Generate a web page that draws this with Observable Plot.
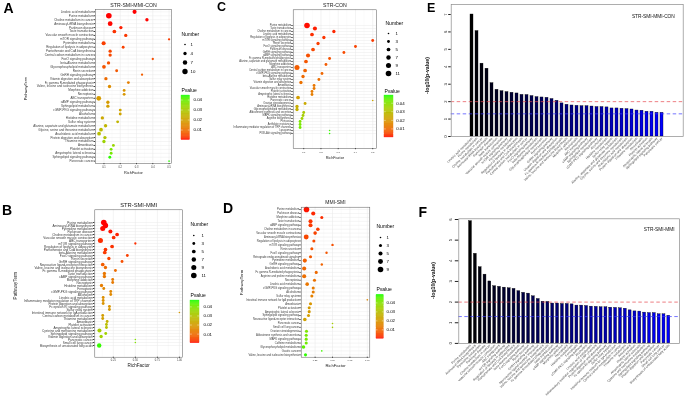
<!DOCTYPE html>
<html><head><meta charset="utf-8">
<script src="https://cdn.jsdelivr.net/npm/d3@7"></script>
<script src="https://cdn.jsdelivr.net/npm/@observablehq/plot@0.6"></script>
<style>
html,body{margin:0;padding:0;background:#fff;}
#wrap{position:relative;width:685px;height:400px;overflow:hidden;background:#fff;}
#wrap > svg{position:absolute;left:0;top:0;will-change:transform;}
</style></head>
<body><div id="wrap"></div>
<script>
// ---------- Panel A / E : STR-SMI-MMI-CON ----------
const termsA = ["Linoleic acid metabolism","Purine metabolism","Choline metabolism in cancer","Aminoacyl-tRNA biosynthesis","Parkinson disease","Taste transduction","Vascular smooth muscle contraction","mTOR signaling pathway","Pyrimidine metabolism","Regulation of lipolysis in adipocytes","Pantothenate and CoA biosynthesis","Central carbon metabolism in cancer","FoxO signaling pathway","beta-Alanine metabolism","Glycerophospholipid metabolism","Renin secretion","GnRH signaling pathway","Vitamin digestion and absorption","Fc gamma R-mediated phagocytosis","Valine, leucine and isoleucine biosynthesis","Morphine addiction","Necroptosis","ABC transporters","cAMP signaling pathway","Sphingolipid metabolism","cGMP-PKG signaling pathway","Alcoholism","Histidine metabolism","Sulfur relay system","Alanine, aspartate and glutamate metabolism","Glycine, serine and threonine metabolism","Arachidonic acid metabolism","Protein digestion and absorption","Thiamine metabolism","Amoebiasis","Platelet activation","Amyotrophic lateral sclerosis","Sphingolipid signaling pathway","Pancreatic cancer"];
const richA = [0.288,0.130,0.364,0.138,0.204,0.164,0.234,0.50,0.098,0.218,0.138,0.138,0.40,0.128,0.10,0.178,0.334,0.112,0.25,0.134,0.224,0.224,0.068,0.124,0.124,0.20,0.20,0.09,0.184,0.11,0.082,0.070,0.106,0.10,0.158,0.144,0.144,0.136,0.50];
const numA = [6,11,4,8,4,5,4,2,6,3,4,4,2,4,5,3,2,4,3,4,3,3,8,4,4,3,3,4,3,4,5,5,4,4,3,3,3,3,1];
const negLogP_E = [7.0,6.05,4.18,3.89,3.06,2.68,2.60,2.55,2.51,2.47,2.39,2.38,2.32,2.26,2.24,2.22,2.15,2.05,1.90,1.82,1.78,1.76,1.74,1.74,1.72,1.69,1.69,1.67,1.61,1.61,1.59,1.57,1.55,1.49,1.48,1.42,1.42,1.36,1.36];

// ---------- Panel B / F : STR-SMI-MMI ----------
const termsB = ["Purine metabolism","Aminoacyl-tRNA biosynthesis","Pyrimidine metabolism","Parkinson disease","Choline metabolism in cancer","Vascular smooth muscle contraction","ABC transporters","mTOR signaling pathway","Regulation of lipolysis in adipocytes","Pantothenate and CoA biosynthesis","beta-Alanine metabolism","FoxO signaling pathway","Renin secretion","GnRH signaling pathway","Neuroactive ligand-receptor interaction","Valine, leucine and isoleucine biosynthesis","Fc gamma R-mediated phagocytosis","Taste transduction","cAMP signaling pathway","Morphine addiction","Necroptosis","Histidine metabolism","Ferroptosis","cGMP-PKG signaling pathway","Alcoholism","Linoleic acid metabolism","Inflammatory mediator regulation of TRP channels","Protein digestion and absorption","Fc epsilon RI signaling pathway","Sulfur relay system","Intestinal immune network for IgA production","Central carbon metabolism in cancer","Thiamine metabolism","Amoebiasis","Platelet activation","Amyotrophic lateral sclerosis","Cysteine and methionine metabolism","Sphingolipid signaling pathway","Vitamin digestion and absorption","Pancreatic cancer","Small cell lung cancer","Biosynthesis of unsaturated fatty acids"];
const richB = [0.142,0.161,0.130,0.217,0.293,0.254,0.104,0.50,0.236,0.161,0.153,0.409,0.20,0.349,0.13,0.161,0.274,0.149,0.149,0.243,0.243,0.116,0.142,0.221,0.221,0.135,0.135,0.135,0.206,0.206,1.0,0.13,0.13,0.18,0.172,0.172,0.093,0.164,0.112,0.50,0.50,0.09];
const numB = [11,10,9,6,5,5,9,2,5,5,5,3,4,3,5,4,3,4,4,3,3,4,3,3,3,3,3,3,3,3,1,3,3,3,3,3,6,3,4,1,1,7];
const negLogP_F = [5.92,4.34,3.69,3.33,3.00,2.77,2.74,2.70,2.67,2.64,2.53,2.45,2.41,2.28,2.15,2.02,2.01,1.93,1.93,1.91,1.91,1.89,1.83,1.83,1.81,1.78,1.77,1.75,1.75,1.73,1.72,1.70,1.68,1.60,1.55,1.54,1.49,1.47,1.47,1.41,1.41,1.34];

// ---------- Panel C : STR-CON ----------
const termsC = ["Purine metabolism","Taste transduction","Choline metabolism in cancer","Linoleic acid metabolism","Regulation of lipolysis in adipocytes","mTOR signaling pathway","Renin secretion","FoxO signaling pathway","Parkinson disease","GnRH signaling pathway","cAMP signaling pathway","Fc gamma R-mediated phagocytosis","Alanine, aspartate and glutamate metabolism","Morphine addiction","ABC transporters","Central carbon metabolism in cancer","cGMP-PKG signaling pathway","beta-Alanine metabolism","Sulfur relay system","Vitamin digestion and absorption","Amoebiasis","Vascular smooth muscle contraction","Platelet activation","Amyotrophic lateral sclerosis","Histidine metabolism","Pancreatic cancer","Ovarian steroidogenesis","Aminoacyl-tRNA biosynthesis","Glycerophospholipid metabolism","Aldosterone synthesis and secretion","MAPK signaling pathway","Arginine biosynthesis","Pertussis","Antifolate resistance","Inflammatory mediator regulation of TRP channels","Lysosome","PI3K-Akt signaling pathway"];
const richC = [0.119,0.165,0.275,0.148,0.217,0.50,0.183,0.40,0.154,0.333,0.125,0.25,0.113,0.229,0.061,0.108,0.206,0.096,0.188,0.084,0.16,0.16,0.148,0.148,0.067,0.50,0.108,0.061,0.061,0.10,0.096,0.09,0.079,0.079,0.079,0.25,0.25];
const numC = [11,6,4,5,4,3,4,3,5,3,6,3,5,3,9,5,3,4,3,4,3,3,3,3,5,1,3,4,4,3,3,3,3,3,3,1,1];
const pC = [0.0003,0.001,0.0015,0.002,0.0025,0.003,0.0035,0.004,0.0045,0.005,0.0055,0.006,0.0065,0.007,0.0075,0.0085,0.009,0.0095,0.0105,0.011,0.012,0.0125,0.013,0.0135,0.021,0.023,0.024,0.025,0.026,0.033,0.034,0.035,0.041,0.042,0.042,0.047,0.048];

// ---------- Panel D : MMI-SMI ----------
const termsD = ["Purine metabolism","Parkinson disease","Morphine addiction","Taste transduction","cAMP signaling pathway","Choline metabolism in cancer","Vascular smooth muscle contraction","Aminoacyl-tRNA biosynthesis","Regulation of lipolysis in adipocytes","mTOR signaling pathway","Renin secretion","FoxO signaling pathway","Retrograde endocannabinoid signaling","Pyrimidine metabolism","GnRH signaling pathway","Arachidonic acid metabolism","Fc gamma R-mediated phagocytosis","Arginine and proline metabolism","Necroptosis","Linoleic acid metabolism","cGMP-PKG signaling pathway","Alcoholism","Sulfur relay system","Intestinal immune network for IgA production","Amoebiasis","Platelet activation","Amyotrophic lateral sclerosis","Sphingolipid signaling pathway","Neuroactive ligand-receptor interaction","Pancreatic cancer","Small cell lung cancer","Ovarian steroidogenesis","Aldosterone synthesis and secretion","MAPK signaling pathway","Caffeine metabolism","Glycerophospholipid metabolism","Gastric cancer","Valine, leucine and isoleucine biosynthesis"];
const richD = [0.126,0.223,0.346,0.184,0.184,0.289,0.25,0.122,0.232,0.50,0.203,0.414,0.184,0.102,0.346,0.093,0.266,0.093,0.241,0.136,0.223,0.223,0.203,1.0,0.184,0.165,0.165,0.155,0.102,0.50,0.50,0.126,0.122,0.122,0.122,0.083,0.346,0.112];
const numD = [9,5,3,5,5,4,4,7,3,2,3,2,3,5,2,5,3,5,3,4,3,3,3,1,3,3,3,3,4,1,1,3,3,3,3,4,1,3];
const pD = [0.0005,0.0015,0.002,0.0025,0.003,0.0035,0.004,0.0045,0.005,0.0055,0.006,0.0065,0.007,0.008,0.0085,0.009,0.0095,0.0105,0.011,0.012,0.013,0.0135,0.014,0.016,0.019,0.020,0.020,0.021,0.022,0.034,0.034,0.041,0.042,0.042,0.043,0.045,0.047,0.048];

// legend breaks / tick labels
const sizeBreaksA = [1,4,7,10];
const sizeBreaksB = [1,3,5,7,9,11];
const sizeBreaksC = [1,3,5,7,9,11];
const sizeBreaksD = [1,3,5,7,9];
const pBreaks = [0.01,0.02,0.03,0.04];
const richTicks1 = [0.1,0.2,0.3,0.4,0.5];
const richTicks2 = [0.25,0.5,0.75,1.0];

// ---------------------------------------------------------------
const W = 685, H = 400;
const FONT = "'Liberation Sans', Arial, Helvetica, sans-serif";
const R_RANGE = [0.8, 2.8];
const wrap = document.getElementById("wrap");
const pA = negLogP_E.map(v => Math.pow(10, -v));
const pB = negLogP_F.map(v => Math.pow(10, -v));

function base(fr) { // [left, right, top, bottom] in page pixels
  return {
    width: W, height: H,
    marginLeft: fr[0], marginRight: W - fr[1], marginTop: fr[2], marginBottom: H - fr[3],
    style: {background: "transparent", fontFamily: FONT, overflow: "visible", maxWidth: "none", color: "black"}
  };
}
function colorScale(pmax) {
  return {type: "linear", domain: [0, pmax], range: ["#ff0000", "#00ff00"], interpolate: "lab"};
}
function letter(ch, fr, x, y, fs) {
  return Plot.text([ch], {frameAnchor: "top-left", dx: x - fr[0], dy: y - fr[2], textAnchor: "start",
    lineAnchor: "middle", fontSize: fs, fontWeight: "bold", fill: "black"});
}

function dotPanel(o) {
  const fr = o.frame;
  const data = o.terms.map((t, i) => ({term: t, rf: o.rich[i], n: o.num[i], p: o.p[i]}));
  const cy = (fr[2] + fr[3]) / 2;
  const marks = [
    Plot.gridX(o.minor, {stroke: "#f3f3f3", strokeOpacity: 1, strokeWidth: 0.3}),
    Plot.gridX(o.ticks, {stroke: "#e6e6e6", strokeOpacity: 1, strokeWidth: 0.5}),
    Plot.gridY(o.terms, {stroke: "#e8e8e8", strokeOpacity: 1, strokeWidth: 0.45}),
    Plot.axisX({ticks: o.ticks, tickFormat: o.fmt, fontSize: o.tfs, tickSize: 1.2, tickPadding: 1.2, color: "#3c3c3c", label: null}),
    Plot.axisY({fontSize: o.yfs, tickSize: 1.4, tickPadding: 0.6, color: "#3c3c3c", label: null}),
    Plot.dot(data, {x: "rf", y: "term", r: "n", fill: "p"}),
    Plot.frame({stroke: "#555", strokeWidth: 0.5}),
    Plot.text([o.title], {frameAnchor: "top", dy: o.titleY - fr[2], lineAnchor: "middle", textAnchor: "middle", fontSize: o.titleFs, fill: "#1a1a1a"}),
    Plot.text(["RichFactor"], {frameAnchor: "bottom", dy: o.xlabY - fr[3], lineAnchor: "middle", textAnchor: "middle", fontSize: o.labFs, fill: "#1a1a1a"}),
    letter(o.letter, fr, o.letterX, o.letterY, o.letterFs)
  ];
  if (o.ylabX != null) marks.push(Plot.text(["PathwayTerm"], {frameAnchor: "left", dx: o.ylabX - fr[0], dy: (o.ylabY ?? cy) - cy, rotate: -90, textAnchor: "middle", lineAnchor: "middle", fontSize: o.labFs, fill: "#1a1a1a"}));
  return Plot.plot({
    ...base(fr),
    x: {domain: o.xdom, label: null},
    y: {type: "point", domain: o.terms, padding: 0.6, label: null},
    r: {type: "sqrt", domain: o.rdom, range: R_RANGE},
    color: colorScale(o.pmax),
    marks
  });
}

function sizeLegend(o) {
  const fr = [o.dotX, o.dotX + 30, o.y0, o.y1];
  const items = o.nums.map(n => ({n, label: String(n)}));
  return Plot.plot({
    ...base(fr),
    y: {type: "point", domain: o.nums, padding: 0, axis: null},
    r: {type: "sqrt", domain: o.rdom, range: R_RANGE},
    marks: [
      Plot.dot(items, {y: "n", r: "n", fill: "black", frameAnchor: "left"}),
      Plot.text(items, {y: "n", text: "label", frameAnchor: "left", dx: o.labelX - o.dotX, textAnchor: "start", lineAnchor: "middle", fontSize: 4.4, fill: "black"}),
      Plot.text(["Number"], {frameAnchor: "top-left", dx: o.titleX - o.dotX, dy: o.titleY - o.y0, textAnchor: "start", lineAnchor: "middle", fontSize: 5, fill: "black"})
    ]
  });
}

function colorLegend(o) {
  const fr = [o.x0, o.x1, o.y0, o.y1];
  const n = 80;
  const slices = d3.range(n).map(k => ({a: o.pmax * k / n, b: o.pmax * (k + 1) / n}));
  return Plot.plot({
    ...base(fr),
    y: {domain: [0, o.pmax], label: null},
    color: colorScale(o.pmax),
    marks: [
      Plot.rect(slices, {y1: "a", y2: "b", fill: d => (d.a + d.b) / 2, stroke: d => (d.a + d.b) / 2, strokeWidth: 0.3}),
      Plot.tickY(pBreaks, {y: d => d, stroke: "white", strokeWidth: 0.4, insetRight: (o.x1 - o.x0) * 0.8}),
      Plot.tickY(pBreaks, {y: d => d, stroke: "white", strokeWidth: 0.4, insetLeft: (o.x1 - o.x0) * 0.8}),
      Plot.axisY({anchor: "right", ticks: pBreaks, tickFormat: ".2f", tickSize: 0, tickPadding: o.pad, fontSize: 4.4, color: "black", label: null}),
      Plot.text(["Pvalue"], {frameAnchor: "top-left", dy: o.titleY - o.y0, textAnchor: "start", lineAnchor: "middle", fontSize: 5, fill: "black"})
    ]
  });
}

function barPanel(o) {
  const fr = o.frame;
  const data = o.terms.map((t, i) => ({term: t, v: o.vals[i], i}));
  const cy = (fr[2] + fr[3]) / 2;
  return Plot.plot({
    ...base(fr),
    x: {type: "band", domain: o.terms, range: o.band, paddingInner: 0.4, paddingOuter: 0, align: 0.5, label: null},
    y: {domain: o.ydom, label: null},
    color: {type: "linear", domain: [0, o.terms.length - 1], range: ["#000000", "#0000ff"], interpolate: "rgb"},
    marks: [
      Plot.barY(data, {x: "term", y: "v", fill: "i", stroke: "black", strokeWidth: 0.35}),
      Plot.ruleY([2], {stroke: "#e5484d", strokeWidth: 0.7, strokeDasharray: "3.5,2.5"}),
      Plot.ruleY([1.3], {stroke: "#3b3bff", strokeWidth: 0.7, strokeDasharray: "3.5,2.5"}),
      Plot.frame({stroke: "#8a8a8a", strokeWidth: 0.7}),
      Plot.axisY({ticks: o.yticks, tickFormat: "d", tickSize: o.tickSize, tickPadding: o.tickPad, tickRotate: -90, fontSize: 4.2, color: "#222", label: null}),
      Plot.axisX({tickSize: 0, tickPadding: 1.5, tickRotate: -45, fontSize: 3.2, color: "#444", label: null}),
      Plot.text([o.title], {frameAnchor: "top-right", dx: o.titleX - fr[1], dy: o.titleY - fr[2], textAnchor: "end", lineAnchor: "middle", fontSize: 4.8, fill: "#111"}),
      Plot.text(["-log10(p-value)"], {frameAnchor: "left", dx: o.ylabX - fr[0], dy: o.ylabY - cy, rotate: -90, textAnchor: "middle", lineAnchor: "middle", fontSize: 5.2, fontWeight: "bold", fill: "#111"}),
      letter(o.letter, fr, o.letterX, o.letterY, o.letterFs)
    ]
  });
}

const plots = [];
// A
plots.push(dotPanel({terms: termsA, rich: richA, num: numA, p: pA, pmax: 0.0445,
  frame: [95, 171, 9, 163], xdom: [0.048, 0.515], ticks: richTicks1, minor: [0.05, 0.15, 0.25, 0.35, 0.45], fmt: ".1f",
  rdom: [1, 11], yfs: 3.0, tfs: 2.6, title: "STR-SMI-MMI-CON", titleY: 5, titleFs: 5.2,
  xlabY: 172.5, ylabX: 25, ylabY: 88, labFs: 3.9, letter: "A", letterX: 3, letterY: 8.5, letterFs: 14}));
plots.push(sizeLegend({nums: sizeBreaksA, rdom: [1, 11], dotX: 184.5, labelX: 190, titleX: 181, titleY: 34, y0: 43.3, y1: 71.3}));
plots.push(colorLegend({x0: 181, x1: 189.5, y0: 95, y1: 139.5, pmax: 0.0445, titleY: 90, pad: 3.5}));
// B
plots.push(dotPanel({terms: termsB, rich: richB, num: numB, p: pB, pmax: 0.047,
  frame: [94.3, 182, 209.3, 356.7], xdom: [0.04, 1.035], ticks: richTicks2, minor: [0.125, 0.375, 0.625, 0.875], fmt: ".2f",
  rdom: [1, 11], yfs: 3.1, tfs: 2.6, title: "STR-SMI-MMI", titleY: 205, titleFs: 5.8,
  xlabY: 365, ylabX: 15, ylabY: 285, labFs: 4.6, letter: "B", letterX: 1.5, letterY: 210, letterFs: 14}));
plots.push(sizeLegend({nums: sizeBreaksB, rdom: [1, 11], dotX: 193.3, labelX: 201, titleX: 190, titleY: 224, y0: 233.3, y1: 276.7}));
plots.push(colorLegend({x0: 190, x1: 199, y0: 300, y1: 342.7, pmax: 0.047, titleY: 295, pad: 4}));
// C
plots.push(dotPanel({terms: termsC, rich: richC, num: numC, p: pC, pmax: 0.049,
  frame: [292.7, 376, 9.3, 148], xdom: [0.039, 0.522], ticks: richTicks1, minor: [0.05, 0.15, 0.25, 0.35, 0.45], fmt: ".1f",
  rdom: [1, 11], yfs: 2.6, tfs: 2.5, title: "STR-CON", titleY: 5, titleFs: 5.2,
  xlabY: 157, ylabX: null, labFs: 3.8, letter: "C", letterX: 216.5, letterY: 6, letterFs: 12.5}));
plots.push(sizeLegend({nums: sizeBreaksC, rdom: [1, 11], dotX: 388, labelX: 395, titleX: 385, titleY: 23, y0: 32.3, y1: 73.3}));
plots.push(colorLegend({x0: 384, x1: 393, y0: 95, y1: 137, pmax: 0.049, titleY: 90.5, pad: 2.7}));
// D
plots.push(dotPanel({terms: termsD, rich: richD, num: numD, p: pD, pmax: 0.049,
  frame: [300.7, 369.3, 206.7, 356.7], xdom: [0.05, 1.036], ticks: richTicks2, minor: [0.125, 0.375, 0.625, 0.875], fmt: ".2f",
  rdom: [1, 9], yfs: 2.7, tfs: 2.4, title: "MMI-SMI", titleY: 202, titleFs: 5,
  xlabY: 365.5, ylabX: 240.7, ylabY: 282, labFs: 4.2, letter: "D", letterX: 222.5, letterY: 208.5, letterFs: 14}));
plots.push(sizeLegend({nums: sizeBreaksD, rdom: [1, 9], dotX: 380, labelX: 386, titleX: 376, titleY: 226, y0: 235, y1: 270.7}));
plots.push(colorLegend({x0: 376, x1: 383.3, y0: 294.3, y1: 338.3, pmax: 0.049, titleY: 289.3, pad: 2.7}));
// E
plots.push(barPanel({terms: termsA, vals: negLogP_E, frame: [450.7, 682.7, 4, 136], ydom: [0, 7.574],
  band: [461.07, 670.94], yticks: [0,1,2,3,4,5,6,7], tickSize: 2.5, tickPad: 1.8,
  title: "STR-SMI-MMI-CON", titleX: 674.3, titleY: 16, ylabX: 426.7, ylabY: 75,
  letter: "E", letterX: 426.5, letterY: 7.5, letterFs: 12.5}));
// F
plots.push(barPanel({terms: termsB, vals: negLogP_F, frame: [458.3, 679, 218.3, 342.9], ydom: [0, 6.034],
  band: [468.55, 669.77], yticks: [0,1,2,3,4,5,6], tickSize: 3.5, tickPad: 3.5,
  title: "STR-SMI-MMI", titleX: 674, titleY: 229.3, ylabX: 433.3, ylabY: 280,
  letter: "F", letterX: 418, letterY: 211.7, letterFs: 14}));

for (const p of plots) wrap.appendChild(p);
</script>
</body></html>
